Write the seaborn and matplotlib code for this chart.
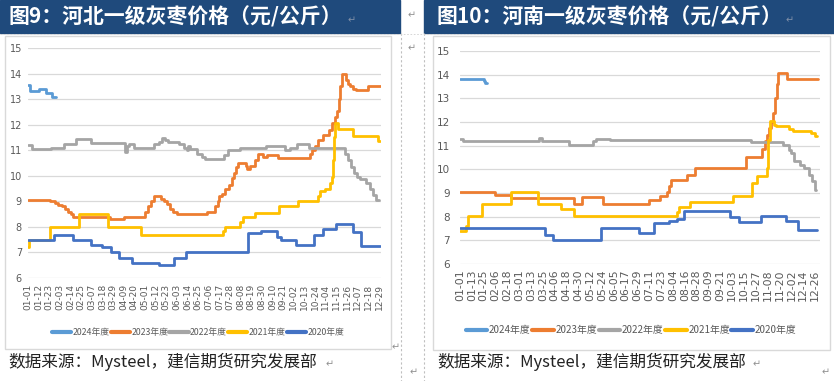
import pandas as pd
import seaborn as sns
import matplotlib.pyplot as plt
from matplotlib.patches import Rectangle
from matplotlib.lines import Line2D

# series names and Excel-style colours
years = ["2024年度", "2023年度", "2022年度", "2021年度", "2020年度"]
colors = ["#5B9BD5", "#ED7D31", "#A5A5A5", "#FFC000", "#4472C4"]

# day = index in a leap-year calendar (0 = 01-01); values read at the change points
# 河北
hb_2024_day = [0, 2, 11, 19, 25, 29]
hb_2024_val = [13.55, 13.3, 13.4, 13.25, 13.1, 13.1]

hb_2023_day = [0, 23, 28, 31, 35, 38, 41, 44, 47, 85, 99, 121, 124, 127, 130, 138, 141,
               144, 147, 150, 154, 185, 193, 196, 198, 201, 204, 208, 211, 213, 215, 217,
               225, 227, 230, 235, 238, 243, 247, 259, 292, 294, 297, 300, 305, 311, 314,
               317, 320, 322, 323, 325, 329, 331, 333, 336, 339, 352, 365]
hb_2023_val = [9.05, 9.0, 8.95, 8.85, 8.8, 8.7, 8.6, 8.5, 8.4, 8.3, 8.4, 8.6, 8.8, 9.0,
               9.2, 9.1, 9.0, 8.9, 8.7, 8.6, 8.5, 8.6, 8.8, 9.0, 9.2, 9.3, 9.5, 9.65, 9.9,
               10.1, 10.35, 10.5, 10.4, 10.25, 10.4, 10.6, 10.85, 10.75, 10.8, 10.7, 10.85,
               11.0, 11.15, 11.4, 11.6, 11.8, 12.05, 12.3, 12.55, 13.0, 13.5, 14.0, 13.75,
               13.6, 13.5, 13.4, 13.35, 13.52, 13.52]

hb_2022_day = [0, 4, 24, 37, 50, 65, 100, 102, 104, 110, 112, 130, 135, 139, 142, 145,
               156, 161, 164, 166, 168, 175, 180, 183, 203, 207, 219, 246, 266, 271, 278,
               291, 328, 331, 334, 337, 340, 343, 350, 354, 357, 360, 363]
hb_2022_val = [11.22, 11.03, 11.1, 11.26, 11.42, 11.3, 10.95, 11.16, 11.23, 11.1, 11.1,
               11.23, 11.33, 11.46, 11.4, 11.33, 11.23, 11.1, 11.0, 11.15, 11.03, 10.87,
               10.74, 10.65, 10.8, 11.0, 11.07, 11.16, 11.0, 11.1, 11.26, 11.07, 10.87,
               10.6, 10.35, 10.1, 9.96, 9.87, 9.7, 9.5, 9.25, 9.05, 9.05]

hb_2021_day = [0, 1, 23, 53, 83, 117, 202, 204, 219, 222, 235, 260, 279, 300, 302, 307,
               312, 314, 315, 316, 317, 321, 336, 362, 364]
hb_2021_val = [7.2, 7.5, 8.0, 8.5, 8.0, 7.7, 7.85, 8.0, 8.2, 8.4, 8.53, 8.82, 9.0, 9.2,
               9.4, 9.5, 9.7, 9.96, 10.6, 11.5, 12.05, 11.85, 11.55, 11.37, 11.37]

hb_2020_day = [0, 27, 47, 65, 77, 86, 94, 108, 136, 151, 163, 228, 241, 258, 262, 277,
               296, 305, 319, 336, 344, 364]
hb_2020_val = [7.5, 7.7, 7.5, 7.3, 7.2, 7.0, 6.8, 6.6, 6.5, 6.8, 7.0, 7.75, 7.83, 7.6,
               7.5, 7.3, 7.7, 7.9, 8.13, 7.8, 7.25, 7.25]

# 河南
hn_2024_day = [0, 24, 25, 27]
hn_2024_val = [13.83, 13.75, 13.65, 13.65]

hn_2023_day = [0, 35, 52, 116, 124, 145, 192, 203, 210, 212, 214, 230, 238, 290, 306,
               309, 311, 313, 315, 317, 319, 321, 322, 332, 363]
hn_2023_val = [9.03, 8.9, 8.8, 8.55, 8.82, 8.53, 8.72, 8.86, 9.03, 9.28, 9.56, 9.77,
               10.05, 10.54, 10.85, 11.2, 11.47, 11.75, 12.0, 12.4, 13.0, 13.6, 14.07,
               13.82, 13.82]

hn_2022_day = [0, 3, 80, 83, 111, 135, 138, 152, 295, 328, 334, 336, 339, 345, 349, 354,
               357, 360, 361]
hn_2022_val = [11.3, 11.18, 11.32, 11.18, 11.04, 11.18, 11.29, 11.22, 11.14, 11.04,
               10.83, 10.7, 10.35, 10.2, 10.05, 9.77, 9.5, 9.14, 9.14]

hn_2021_day = [0, 6, 8, 22, 52, 79, 102, 116, 220, 222, 233, 277, 296, 301, 311, 312,
               314, 318, 320, 334, 338, 356, 360, 362]
hn_2021_val = [7.4, 7.6, 8.03, 8.55, 9.03, 8.55, 8.33, 8.03, 8.2, 8.42, 8.6, 8.86, 9.42,
               9.7, 10.05, 11.25, 12.03, 11.89, 11.82, 11.72, 11.63, 11.53, 11.42, 11.42]

hn_2020_day = [0, 86, 94, 143, 182, 197, 212, 220, 227, 274, 283, 305, 331, 343, 362]
hn_2020_val = [7.52, 7.22, 7.0, 7.52, 7.3, 7.74, 7.8, 7.9, 8.22, 8.0, 7.77, 8.04, 7.8,
               7.42, 7.42]

hb_ticks = ["01-01", "01-12", "01-23", "02-03", "02-14", "02-25", "03-07", "03-18",
            "03-29", "04-09", "04-20", "05-01", "05-12", "05-23", "06-03", "06-14",
            "06-25", "07-06", "07-17", "07-28", "08-08", "08-19", "08-30", "09-10",
            "09-21", "10-02", "10-13", "10-24", "11-04", "11-15", "11-26", "12-07",
            "12-18", "12-29"]
hn_ticks = ["01-01", "01-13", "01-25", "02-06", "02-18", "03-01", "03-13", "03-25",
            "04-06", "04-18", "04-30", "05-12", "05-24", "06-05", "06-17", "06-29",
            "07-11", "07-23", "08-04", "08-16", "08-28", "09-09", "09-21", "10-03",
            "10-15", "10-27", "11-08", "11-20", "12-02", "12-14", "12-26"]

y_ticks = [6, 7, 8, 9, 10, 11, 12, 13, 14, 15]

title_hb = "图9：河北一级灰枣价格（元/公斤）"
title_hn = "图10：河南一级灰枣价格（元/公斤）"
source = "数据来源：Mysteel，建信期货研究发展部"


def long_frame(days, vals):
    parts = [pd.DataFrame({"day": d, "price": v, "year": y})
             for d, v, y in zip(days, vals, years)]
    return pd.concat(parts, ignore_index=True)


hb = long_frame([hb_2024_day, hb_2023_day, hb_2022_day, hb_2021_day, hb_2020_day],
                [hb_2024_val, hb_2023_val, hb_2022_val, hb_2021_val, hb_2020_val])
hn = long_frame([hn_2024_day, hn_2023_day, hn_2022_day, hn_2021_day, hn_2020_day],
                [hn_2024_val, hn_2023_val, hn_2022_val, hn_2021_val, hn_2020_val])

# month-day string -> day index (leap year)
cal = pd.date_range("2024-01-01", "2024-12-31")
day_of = {d.strftime("%m-%d"): i for i, d in enumerate(cal)}

sns.set_theme(style="white")
plt.rcParams["font.family"] = ["Noto Sans CJK SC", "DejaVu Sans"]

W, H = 834, 381
fig = plt.figure(figsize=(W / 100, H / 100), dpi=100)


def rect(x0, y0, x1, y1):
    # pixel box -> figure fraction [left, bottom, width, height]
    return [x0 / W, 1 - y1 / H, (x1 - x0) / W, (y1 - y0) / H]


def panel(frame, ticks, ax_box, tick_fs, ytick_fs, ypad, leg_fs, leg_x, leg_y, leg_hl):
    ax = fig.add_axes(rect(*ax_box))
    sns.lineplot(data=frame, x="day", y="price", hue="year", hue_order=years,
                 palette=colors, estimator=None, drawstyle="steps-post",
                 linewidth=2.0, ax=ax, legend=False)
    ax.set_xlim(-0.5, 365.5)
    ax.set_ylim(6, 15)
    ax.set_yticks(y_ticks)
    ax.set_xticks([day_of[t] for t in ticks])
    ax.set_xticklabels(ticks, rotation=90, fontsize=tick_fs, color="#595959",
                       family="DejaVu Sans")
    ax.set_yticklabels([str(v) for v in y_ticks], fontsize=ytick_fs, color="#595959",
                       family="DejaVu Sans")
    ax.tick_params(length=0, axis="x", pad=4)
    ax.tick_params(length=0, axis="y", pad=ypad)
    ax.grid(axis="y", color="#D9D9D9", linewidth=0.9)
    ax.grid(axis="x", visible=False)
    for s in ax.spines.values():
        s.set_visible(False)
    ax.set_xlabel("")
    ax.set_ylabel("")
    ax.set_facecolor("none")
    handles = [Line2D([], [], color=c, linewidth=3) for c in colors]
    fig.legend(handles, years, loc="center", bbox_to_anchor=(leg_x / W, 1 - leg_y / H),
               ncol=5, frameon=False, fontsize=leg_fs, handlelength=leg_hl,
               handletextpad=0.15, columnspacing=0.15, labelcolor="#595959",
               borderpad=0, borderaxespad=0)
    return ax


# chart frames and cell borders
for b in [(5, 36, 391, 349), (433, 36, 830, 350)]:
    fig.patches.append(Rectangle((b[0] / W, 1 - b[3] / H), (b[2] - b[0]) / W,
                                 (b[3] - b[1]) / H, transform=fig.transFigure,
                                 fill=False, edgecolor="#D9D9D9", linewidth=1))
for x in [401, 424]:
    fig.add_artist(Line2D([x / W, x / W], [1 - 33 / H, 0], transform=fig.transFigure,
                          color="#BFBFBF", linestyle=(0, (2, 2)), linewidth=0.8))
fig.add_artist(Line2D([0, 1], [1 - 34 / H, 1 - 34 / H], transform=fig.transFigure,
                      color="#D0D0D0", linestyle=(0, (2, 2)), linewidth=0.6))

# title bars
for x0, x1 in [(0, 400), (424, 834)]:
    fig.patches.append(Rectangle((x0 / W, 1 - 33 / H), (x1 - x0) / W, 33 / H,
                                 transform=fig.transFigure, color="#1F4A7C"))
fig.text(9 / W, 1 - 17 / H, title_hb, color="white", fontsize=15, fontweight="bold",
         va="center", ha="left")
fig.text(436 / W, 1 - 17 / H, title_hn, color="white", fontsize=15, fontweight="bold",
         va="center", ha="left")
fig.text(352 / W, 1 - 20 / H, "↵", fontsize=7, color="#8090A8", ha="center",
         va="center", family="DejaVu Sans")
fig.text(790 / W, 1 - 20 / H, "↵", fontsize=7, color="#8090A8", ha="center",
         va="center", family="DejaVu Sans")

panel(hb, hb_ticks, (27.5, 48, 381.4, 278), 6.5, 7, 4, 6.3, 198, 333, 2.2)
panel(hn, hn_ticks, (459.5, 51, 820.4, 264), 7.8, 7.5, 7, 7.1, 631, 330, 2.2)

fig.text(8 / W, 1 - 362 / H, source, fontsize=12, color="#222222", va="center",
         style="italic")
fig.text(437 / W, 1 - 362 / H, source, fontsize=12, color="#222222", va="center",
         style="italic")

# word-processor paragraph marks
for px, py in [(412, 15), (412, 48), (396, 347), (414, 372), (826, 372), (330, 364),
               (757, 364)]:
    fig.text(px / W, 1 - py / H, "↵", fontsize=7, color="#909090", ha="center",
             va="center", family="DejaVu Sans")

fig.savefig("out.png", dpi=100)
